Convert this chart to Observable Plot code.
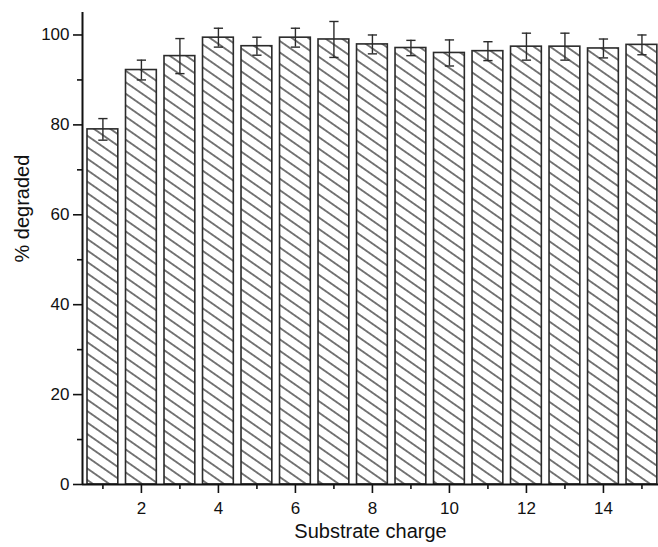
<!DOCTYPE html>
<html>
<head>
<meta charset="utf-8">
<script src="https://cdn.jsdelivr.net/npm/d3@7"></script>
<script src="https://cdn.jsdelivr.net/npm/@observablehq/plot@0.6"></script>
<style>
  html, body { margin: 0; padding: 0; background: white; }
</style>
</head>
<body>
<div id="chart"></div>
<script>
const charge = [1, 2, 3, 4, 5, 6, 7, 8, 9, 10, 11, 12, 13, 14, 15];
const degraded = [79.0, 92.2, 95.3, 99.4, 97.5, 99.4, 99.0, 97.9, 97.1, 96.0, 96.4, 97.4, 97.4, 97.0, 97.8];
const errors = [2.4, 2.2, 3.9, 2.1, 2.0, 2.1, 4.0, 2.1, 1.7, 2.9, 2.1, 3.0, 3.0, 2.1, 2.2];
const xMajorTicks = [2, 4, 6, 8, 10, 12, 14];
const xMinorTicks = [1, 3, 5, 7, 9, 11, 13, 15];
const yMajorTicks = [0, 20, 40, 60, 80, 100];
const yMinorTicks = [10, 30, 50, 70, 90];
const xLabel = "Substrate charge";
const yLabel = "% degraded";

const data = charge.map((c, i) => ({x: c, v: degraded[i], e: errors[i]}));
const xDomain = [0.47, 15.43];
const halfBar = 0.4;
const halfCap = 0.12;
const ink = "#2b2b2b";

const svg = Plot.plot({
  width: 658,
  height: 547,
  marginLeft: 82,
  marginRight: 0,
  marginTop: 12,
  marginBottom: 63,
  style: {fontFamily: "'Liberation Sans', Arial, sans-serif", fontSize: "17px", background: "white", color: "#111"},
  x: {domain: xDomain},
  y: {domain: [0, 105]},
  marks: [
    Plot.rectY(data, {x1: d => d.x - halfBar, x2: d => d.x + halfBar, y1: 0, y2: "v", fill: "url(#hatch)", stroke: ink, strokeWidth: 1.6}),
    Plot.ruleX(data, {x: "x", y1: d => d.v - d.e, y2: d => d.v + d.e, stroke: ink, strokeWidth: 1.4}),
    Plot.link(data, {x1: d => d.x - halfCap, x2: d => d.x + halfCap, y1: d => d.v + d.e, y2: d => d.v + d.e, stroke: ink, strokeWidth: 1.4}),
    Plot.link(data, {x1: d => d.x - halfCap, x2: d => d.x + halfCap, y1: d => d.v - d.e, y2: d => d.v - d.e, stroke: ink, strokeWidth: 1.4}),
    Plot.axisX({ticks: xMajorTicks, tickSize: 9, tickPadding: 8, fontSize: 17, label: null, strokeWidth: 1.6}),
    Plot.axisX({ticks: xMinorTicks, tickSize: 5, text: null, label: null, strokeWidth: 1.6}),
    Plot.axisY({ticks: yMajorTicks, tickSize: 9, tickPadding: 4, fontSize: 17, label: null, strokeWidth: 1.6}),
    Plot.axisY({ticks: yMinorTicks, tickSize: 5, text: null, label: null, strokeWidth: 1.6}),
    Plot.ruleY([0], {stroke: "#111", strokeWidth: 2}),
    Plot.ruleX([xDomain[0]], {stroke: "#111", strokeWidth: 2}),
    Plot.text([xLabel], {frameAnchor: "bottom", dy: 53, fontSize: 20, fill: "#111"}),
    Plot.text([yLabel], {frameAnchor: "left", dx: -60, dy: 14, rotate: -90, fontSize: 20, fill: "#111"})
  ]
});

const ns = "http://www.w3.org/2000/svg";
const defs = document.createElementNS(ns, "defs");
const pattern = document.createElementNS(ns, "pattern");
pattern.setAttribute("id", "hatch");
pattern.setAttribute("patternUnits", "userSpaceOnUse");
pattern.setAttribute("width", "9.4");
pattern.setAttribute("height", "9.4");
pattern.setAttribute("patternTransform", "rotate(35)");
const bg = document.createElementNS(ns, "rect");
bg.setAttribute("width", "9.4");
bg.setAttribute("height", "9.4");
bg.setAttribute("fill", "white");
const line = document.createElementNS(ns, "line");
line.setAttribute("x1", "-1");
line.setAttribute("x2", "10.4");
line.setAttribute("y1", "4.7");
line.setAttribute("y2", "4.7");
line.setAttribute("stroke", "#333");
line.setAttribute("stroke-width", "1.3");
pattern.appendChild(bg);
pattern.appendChild(line);
defs.appendChild(pattern);
svg.insertBefore(defs, svg.firstChild);

document.getElementById("chart").appendChild(svg);
</script>
</body>
</html>
